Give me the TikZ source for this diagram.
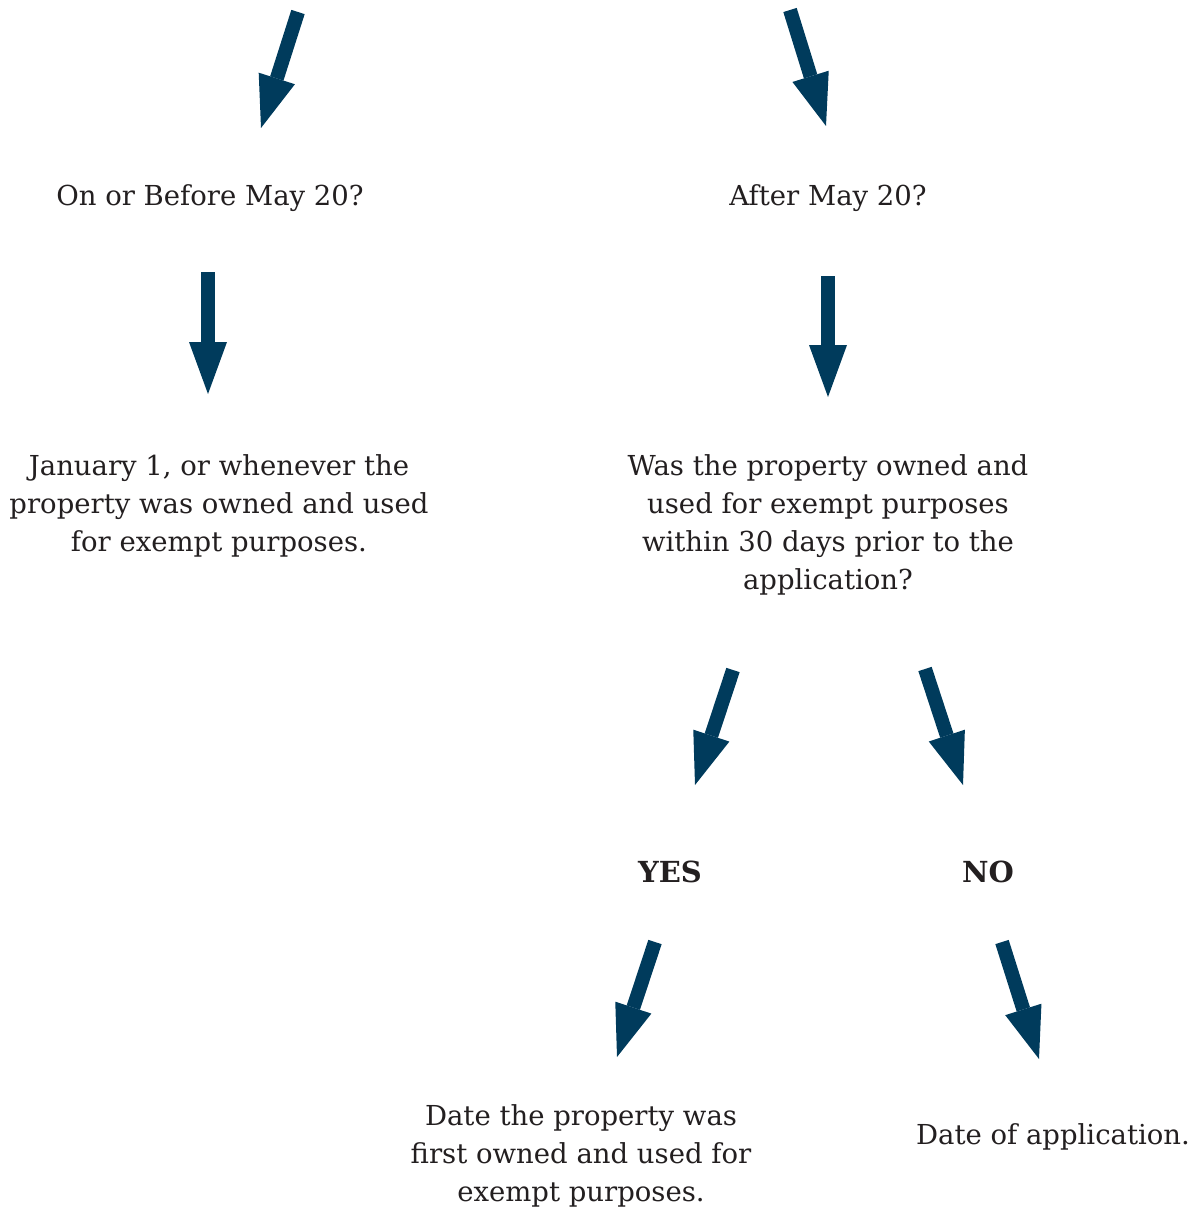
\documentclass[tikz,border=0pt]{standalone}
\usepackage{fontspec}
\setmainfont{DejaVu Serif}
\usetikzlibrary{arrows.meta}
\definecolor{arrowblue}{HTML}{003B5C}
\definecolor{textgray}{HTML}{231F20}
\tikzset{
  bigarrow/.style={draw=arrowblue, line width=14pt,
    -{Triangle[width=38pt,length=52pt,line width=0pt]}},
  txt/.style={text=textgray, align=center, inner sep=0pt,
    font=\fontsize{27.5}{38}\selectfont},
  answer/.style={txt, font=\fontsize{29}{38}\selectfont\bfseries},
}
\begin{document}
\begin{tikzpicture}[x=1pt, y=-1pt]
  \useasboundingbox (0,0) rectangle (1201,1209);
  % Texte
  \node[txt] (before) at (210,198) {On or Before May 20?};
  \node[txt] (after) at (828,198) {After May 20?};
  \node[txt] (january) at (219,506) {January 1, or whenever the\\property was owned and used\\for exempt purposes.};
  \node[txt] (within) at (828,525) {Was the property owned and\\used for exempt purposes\\within 30 days prior to the\\application?};
  \node[answer] (yes) at (670,872) {YES};
  \node[answer] (no) at (988,872) {NO};
  \node[txt] (firstowned) at (581,1156) {Date the property was\\first owned and used for\\exempt purposes.};
  \node[txt] (appdate) at (1053,1137) {Date of application.};
  % Pfeile
  \coordinate (top-l) at (298,12);   \coordinate (top-l-end) at (261,128);
  \coordinate (top-r) at (790,10);   \coordinate (top-r-end) at (826,126);
  \coordinate (before-s) at (208,272); \coordinate (before-e) at (208,394);
  \coordinate (after-s) at (828,276);  \coordinate (after-e) at (828,397);
  \coordinate (yes-s) at (733,670);  \coordinate (yes-e) at (695,785);
  \coordinate (no-s) at (925,669);   \coordinate (no-e) at (963,785);
  \coordinate (yes2-s) at (655,942); \coordinate (yes2-e) at (617,1057);
  \coordinate (no2-s) at (1002,942); \coordinate (no2-e) at (1039,1059);
  \foreach \s/\e in {top-l/top-l-end, top-r/top-r-end, before-s/before-e,
      after-s/after-e, yes-s/yes-e, no-s/no-e, yes2-s/yes2-e, no2-s/no2-e}
    \draw[bigarrow] (\s) -- (\e);
\end{tikzpicture}
\end{document}
